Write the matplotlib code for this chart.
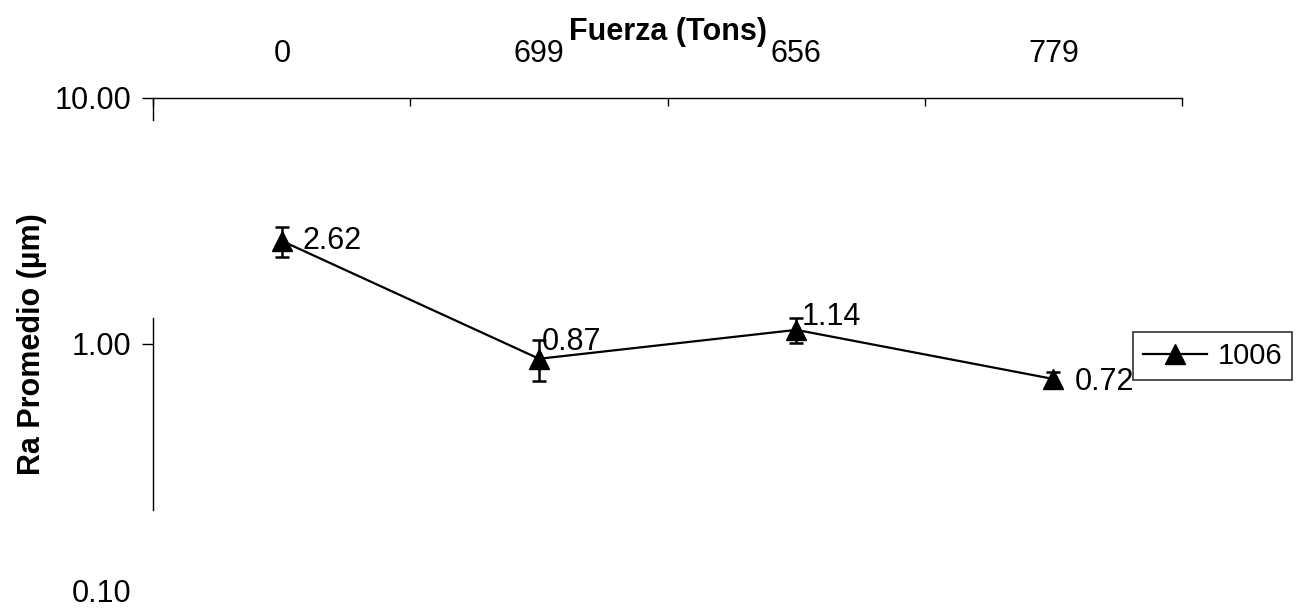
import matplotlib
matplotlib.use("Agg")
import matplotlib.pyplot as plt
from matplotlib.lines import Line2D
from matplotlib.ticker import FixedLocator, FormatStrFormatter
import numpy as np

plt.rcParams["font.family"] = ["Liberation Sans", "DejaVu Sans"]

# data
fuerza_labels = ["0", "699", "656", "779"]
ra_promedio = [2.62, 0.87, 1.14, 0.72]
ra_error = [0.37, 0.165, 0.13, 0.05]
series_name = "1006"

# label offsets in points (styling only)
label_offsets = [(15, 0), (2, 12), (4, 9), (15, -2)]

fig = plt.figure(figsize=(12.99, 6.08), dpi=100)
ax = fig.add_axes([0.118, 0.0296, 0.792, 0.8096])

x = np.arange(len(ra_promedio))
ax.errorbar(x, ra_promedio, yerr=ra_error, color="black", lw=1.6,
            marker="^", ms=15, capsize=5, capthick=1.8, elinewidth=1.8)

for xi, v, off in zip(x, ra_promedio, label_offsets):
    ax.annotate(f"{v:.2f}", (xi, v), xytext=off, textcoords="offset points",
                ha="left", va="center", fontsize=22)

ax.set_yscale("log")
ax.set_ylim(0.1, 10)
ax.set_xlim(-0.5, len(ra_promedio) - 0.5)
ax.yaxis.set_major_locator(FixedLocator([0.1, 1, 10]))
ax.yaxis.set_minor_locator(FixedLocator([]))
ax.yaxis.set_major_formatter(FormatStrFormatter("%.2f"))
ax.tick_params(axis="y", which="major", direction="out", length=8, width=1,
               labelsize=22, pad=8)
ax.yaxis.get_major_ticks()[0].tick1line.set_visible(False)

# category axis on top
ax.xaxis.set_ticks_position("top")
ax.xaxis.set_label_position("top")
ax.set_xticks(x)
ax.set_xticklabels(fuerza_labels)
ax.set_xticks(np.arange(len(ra_promedio) + 1) - 0.5, minor=True)
ax.tick_params(axis="x", which="major", length=0, labelsize=22, pad=21)
ax.tick_params(axis="x", which="minor", direction="in", length=6, width=1)
ax.set_xlabel("Fuerza (Tons)", fontsize=22, fontweight="bold", labelpad=-1)
ax.set_ylabel("Ra Promedio (µm)", fontsize=22, fontweight="bold", labelpad=5)

for s in ["right", "bottom", "left"]:
    ax.spines[s].set_visible(False)
ax.spines["top"].set_linewidth(1)

# left spine only partly visible in the original scan
for y0, y1 in [(0.955, 1.0), (0.163, 0.553)]:
    ax.plot([0, 0], [y0, y1], transform=ax.transAxes, color="black",
            lw=1, clip_on=False)

handle = Line2D([], [], color="black", lw=1.6, marker="^", ms=15)
leg = fig.legend([handle], [series_name], loc="center left",
                 bbox_to_anchor=(1133 / 1299, 1 - 356 / 608),
                 fontsize=21, frameon=True, fancybox=False, edgecolor="black",
                 handlelength=2.2, borderpad=0.35, handletextpad=0.35,
                 borderaxespad=0)
leg.get_frame().set_linewidth(1.2)

fig.savefig("out.png", dpi=100)
